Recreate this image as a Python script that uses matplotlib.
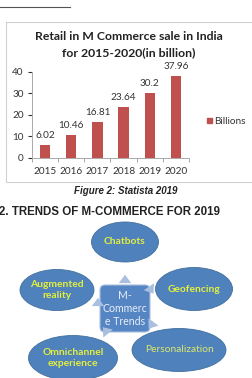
import matplotlib.pyplot as plt
from matplotlib.patches import Ellipse, FancyBboxPatch, Rectangle

years = ['2015', '2016', '2017', '2018', '2019', '2020']
billions = [6.02, 10.46, 16.81, 23.64, 30.2, 37.96]

trends = ['Chatbots', 'Geofencing', 'Personalization', 'Omnichannel\nexperience', 'Augmented\nreality']
# ellipse centre x, y, width, height in page pixels
trend_boxes = [(125, 242, 67, 40), (194, 289, 77, 43), (179, 350, 94, 43),
               (73, 358, 89, 45), (57, 290, 74, 41)]
trend_bold = [True, True, False, True, True]

W, H = 252, 378
fig = plt.figure(figsize=(W / 100, H / 100), dpi=100)

# page overlay in pixel coords
page = fig.add_axes([0, 0, 1, 1])
page.set_xlim(0, W)
page.set_ylim(H, 0)
page.axis('off')

page.plot([0, 70], [7, 7], color='#555555', lw=0.8)
page.add_patch(Rectangle((6, 22), 250, 160, fill=False, ec='#d0d0d0', lw=0.8))
page.text(129, 37, 'Retail in M Commerce sale in India', ha='center', va='center',
          fontsize=8.8, fontweight='bold', family='Lato', color='#222222')
page.text(129, 53, 'for 2015-2020(in billion)', ha='center', va='center',
          fontsize=8.8, fontweight='bold', family='Lato', color='#222222')
page.add_patch(Rectangle((207, 118), 5, 5, color='#c0504d'))
page.text(214, 121, 'Billions', ha='left', va='center', fontsize=7.2,
          family='Lato', color='#333333')

page.text(126, 190.5, 'Figure 2: Statista 2019', ha='center', va='center', fontsize=7,
          fontweight='bold', style='italic', family='Liberation Sans', color='#222222')
page.text(-1, 212, '2. TRENDS OF M-COMMERCE FOR 2019', ha='left', va='center', fontsize=8.3,
          fontweight='bold', family='Liberation Sans', color='#222222')

# trend diagram
for name, (cx, cy, w, h), b in zip(trends, trend_boxes, trend_bold):
    page.add_patch(Ellipse((cx, cy), w, h, fc='#4f81bd', ec='#41719c', lw=0.6))
    page.text(cx, cy, name, ha='center', va='center', fontsize=7.4, family='Lato',
              fontweight='bold' if b else 'normal', color='#e4ef3c' if b else '#dbe86a',
              linespacing=1.3)

page.add_patch(FancyBboxPatch((102, 287), 46, 43, boxstyle='round,pad=2,rounding_size=5',
                              fc='#5585c2', ec='#a9c0e0', lw=0.8))
page.text(125, 308.5, 'M-\nCommerc\ne Trends', ha='center', va='center', fontsize=7.6,
          family='Lato', color='#e8eef8', linespacing=1.2)

# arrows around the centre
arrow_kw = dict(arrowstyle='simple,head_width=0.9,head_length=0.6,tail_width=0.45',
                color='#a9bfe0', lw=0)
page.annotate('', xy=(125, 272), xytext=(125, 280), arrowprops=arrow_kw)
page.annotate('', xy=(155, 296), xytext=(151, 290), arrowprops=arrow_kw)
page.annotate('', xy=(147, 331), xytext=(152, 324), arrowprops=arrow_kw)
page.annotate('', xy=(101, 325), xytext=(106, 331), arrowprops=arrow_kw)
page.annotate('', xy=(98, 295), xytext=(98, 303), arrowprops=arrow_kw)

# bar chart
ax = fig.add_axes([32 / W, 1 - 157.7 / H, 157 / W, 86 / H])
x = range(len(years))
ax.bar(x, billions, width=0.4, color='#c0504d')
for xi, v in zip(x, billions):
    ax.text(xi, v + 2.2, f'{v:g}', ha='center', va='bottom', fontsize=7.2,
            family='Lato', color='#333333')
ax.set_xlim(-0.5, 5.5)
ax.set_ylim(0, 40)
ax.set_yticks([0, 10, 20, 30, 40])
ax.set_xticks(list(x))
ax.set_xticklabels(years)
ax.set_xticks([i + 0.5 for i in range(-1, 6)], minor=True)
ax.tick_params(axis='x', which='major', length=0, pad=7)
ax.tick_params(axis='x', which='minor', length=3, color='#999999', direction='out')
ax.tick_params(axis='y', length=3, color='#999999', pad=3)
ax.tick_params(labelsize=7.2, colors='#333333')
for lab in ax.get_xticklabels() + ax.get_yticklabels():
    lab.set_family('Lato')
for s in ['top', 'right']:
    ax.spines[s].set_visible(False)
for s in ['left', 'bottom']:
    ax.spines[s].set_color('#aaaaaa')
    ax.spines[s].set_linewidth(0.7)
ax.patch.set_alpha(0)

fig.savefig('out.png', dpi=100)
